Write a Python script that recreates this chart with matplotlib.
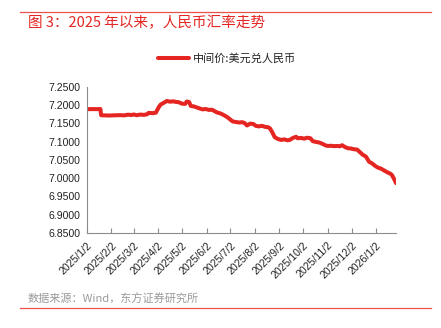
import matplotlib
matplotlib.use("Agg")
import matplotlib.pyplot as plt
import matplotlib.dates as mdates
import pandas as pd
from matplotlib.lines import Line2D

# ---- data ----
dates = [
    "2025-01-02", "2025-01-08", "2025-01-15", "2025-01-19", "2025-01-20", "2025-01-25",
    "2025-01-31", "2025-02-06", "2025-02-13", "2025-02-18", "2025-02-23", "2025-02-27",
    "2025-03-02", "2025-03-06", "2025-03-10", "2025-03-15", "2025-03-19", "2025-03-21",
    "2025-03-26", "2025-03-30", "2025-04-03", "2025-04-05", "2025-04-09", "2025-04-13",
    "2025-04-17", "2025-04-21", "2025-04-24", "2025-04-28", "2025-05-02", "2025-05-06",
    "2025-05-08", "2025-05-11", "2025-05-13", "2025-05-17", "2025-05-21", "2025-05-25",
    "2025-05-28", "2025-06-01", "2025-06-05", "2025-06-09", "2025-06-13", "2025-06-16",
    "2025-06-20", "2025-06-24", "2025-06-28", "2025-07-02", "2025-07-05", "2025-07-09",
    "2025-07-13", "2025-07-17", "2025-07-20", "2025-07-23", "2025-07-27", "2025-07-31",
    "2025-08-03", "2025-08-07", "2025-08-11", "2025-08-15", "2025-08-19", "2025-08-21",
    "2025-08-24", "2025-08-27", "2025-08-31", "2025-09-04", "2025-09-08", "2025-09-12",
    "2025-09-15", "2025-09-19", "2025-09-23", "2025-09-25", "2025-09-29", "2025-10-03",
    "2025-10-07", "2025-10-11", "2025-10-14", "2025-10-18", "2025-10-22", "2025-10-26",
    "2025-10-30", "2025-11-02", "2025-11-06", "2025-11-10", "2025-11-14", "2025-11-17",
    "2025-11-20", "2025-11-24", "2025-11-28", "2025-12-01", "2025-12-05", "2025-12-09",
    "2025-12-13", "2025-12-16", "2025-12-20", "2025-12-24", "2025-12-28", "2026-01-01",
    "2026-01-04", "2026-01-08", "2026-01-12", "2026-01-16", "2026-01-20", "2026-01-22",
    "2026-01-25", "2026-01-27",
]
mid_rate = [
    7.1885, 7.1888, 7.1886, 7.1890, 7.1720, 7.1715,
    7.1712, 7.1718, 7.1722, 7.1716, 7.1735, 7.1725,
    7.1740, 7.1720, 7.1738, 7.1730, 7.1745, 7.1785,
    7.1775, 7.1790, 7.1950, 7.2010, 7.2060, 7.2110,
    7.2090, 7.2100, 7.2085, 7.2075, 7.2035, 7.2030,
    7.2095, 7.2080, 7.1975, 7.1960, 7.1930, 7.1900,
    7.1880, 7.1890, 7.1865, 7.1870, 7.1820, 7.1790,
    7.1765, 7.1720, 7.1670, 7.1600, 7.1550, 7.1535,
    7.1520, 7.1530, 7.1505, 7.1440, 7.1490, 7.1480,
    7.1430, 7.1415, 7.1430, 7.1400, 7.1390, 7.1360,
    7.1250, 7.1120, 7.1070, 7.1045, 7.1060, 7.1035,
    7.1045, 7.1100, 7.1130, 7.1090, 7.1100, 7.1080,
    7.1105, 7.1090, 7.1010, 7.0990, 7.0975, 7.0940,
    7.0895, 7.0880, 7.0885, 7.0875, 7.0880, 7.0870,
    7.0900, 7.0845, 7.0815, 7.0810, 7.0790, 7.0780,
    7.0700, 7.0640, 7.0590, 7.0450, 7.0400, 7.0330,
    7.0290, 7.0260, 7.0210, 7.0160, 7.0120, 7.0080,
    6.9960, 6.9865,
]
tick_dates = ["2025-01-02", "2025-02-02", "2025-03-02", "2025-04-02", "2025-05-02",
              "2025-06-02", "2025-07-02", "2025-08-02", "2025-09-02", "2025-10-02",
              "2025-11-02", "2025-12-02", "2026-01-02"]
tick_labels = ["2025/1/2", "2025/2/2", "2025/3/2", "2025/4/2", "2025/5/2", "2025/6/2",
               "2025/7/2", "2025/8/2", "2025/9/2", "2025/10/2", "2025/11/2",
               "2025/12/2", "2026/1/2"]
y_ticks = [6.85, 6.90, 6.95, 7.00, 7.05, 7.10, 7.15, 7.20, 7.25]

title = "图 3：2025 年以来，人民币汇率走势"
series_name = "中间价:美元兑人民币"
source = "数据来源：Wind，东方证券研究所"

RED = "#E52521"
CJK = ["Noto Sans CJK SC", "DejaVu Sans"]
LAT = ["Liberation Sans", "DejaVu Sans"]

x = pd.to_datetime(dates)

fig = plt.figure(figsize=(4.41, 3.28), dpi=100)
fig.patch.set_facecolor("white")
ax = fig.add_axes([0.197, 0.2896, 0.701, 0.4461])

ax.plot(x, mid_rate, color=RED, lw=2.9, solid_joinstyle="round", solid_capstyle="round")

ax.set_ylim(6.85, 7.25)
ax.set_yticks(y_ticks)
ax.set_yticklabels([f"{v:.4f}" for v in y_ticks], fontfamily=LAT, fontsize=7.6, color="#222222")
ax.set_xlim(x[0], x[-1])
ax.set_xticks(pd.to_datetime(tick_dates))
ax.set_xticklabels(tick_labels, rotation=45, ha="right", rotation_mode="anchor",
                   fontfamily=LAT, fontsize=7.6, color="#222222")

for s in ["top", "right"]:
    ax.spines[s].set_visible(False)
for s in ["left", "bottom"]:
    ax.spines[s].set_color("#8c8c8c")
    ax.spines[s].set_linewidth(0.8)
ax.tick_params(axis="y", length=0, pad=4.5)
ax.tick_params(axis="x", direction="in", length=3.5, color="#8c8c8c", pad=5)

# title and rules
fig.add_artist(Line2D([20 / 441, 431 / 441], [1 - 12 / 328, 1 - 12 / 328],
                      color="#E8524B", lw=0.9))
fig.text(28 / 441, 1 - 23 / 328, title, color=RED, fontsize=10.5, fontfamily=CJK,
         va="center", ha="left")

# legend
ly = 1 - 58 / 328
fig.add_artist(Line2D([158 / 441, 189 / 441], [ly, ly], color=RED, lw=2.9,
                      solid_capstyle="round"))
fig.text(193 / 441, ly, series_name, fontsize=8, fontfamily=CJK, color="#222222",
         va="center", ha="left")

# source
fig.text(28 / 441, 1 - 299 / 328, source, fontsize=8, fontfamily=CJK, color="#9a9a9a",
         va="center", ha="left")
fig.add_artist(Line2D([20 / 441, 431 / 441], [1 - 308 / 328, 1 - 308 / 328],
                      color="#E8524B", lw=0.9))

fig.savefig("out.png", dpi=100, facecolor="white")
